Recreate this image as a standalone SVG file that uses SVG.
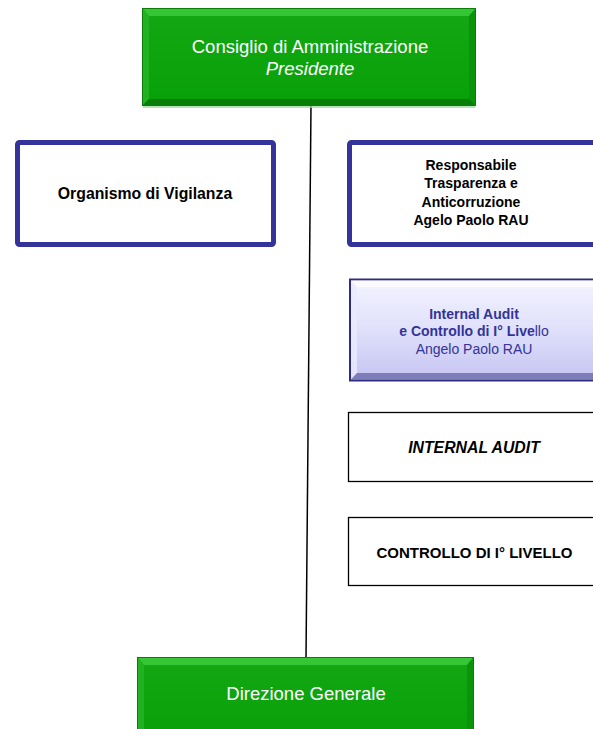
<svg xmlns="http://www.w3.org/2000/svg" width="593" height="729" viewBox="0 0 593 729">
<defs>
<linearGradient id="gGreen" x1="0" y1="0" x2="0" y2="1">
<stop offset="0" stop-color="#14a814"/>
<stop offset="1" stop-color="#08a008"/>
</linearGradient>
<linearGradient id="gLav" x1="0" y1="0" x2="0" y2="1">
<stop offset="0" stop-color="#f4f4ff"/>
<stop offset="0.5" stop-color="#e0e0fb"/>
<stop offset="1" stop-color="#c4c4f2"/>
</linearGradient>
<style>
.t{font-family:"Liberation Sans",Arial,sans-serif;text-anchor:middle}
.w{fill:#ffffff;font-size:18.5px}
.b{fill:#000000;font-weight:bold;font-size:14px}
.n{fill:#333399;font-size:14px}
.blue{fill:#ffffff;stroke:#333399;stroke-width:5}
.thin{fill:#ffffff;stroke:#000000;stroke-width:1.3}
.gb{stroke:#0b7d0b;stroke-width:1}
.conn{stroke:#000000;stroke-width:1.5;fill:none}
</style>
</defs>

<g id="connectors">
<line class="conn" x1="311" y1="105" x2="306" y2="658"/>
</g>

<g id="cda">
<rect x="142.5" y="8.5" width="333" height="97" fill="url(#gGreen)" class="gb"/>
<polygon points="143,9 475,9 469,16 149,16" fill="#3ccb3c" opacity="0.85"/>
<polygon points="143,9 149,16 149,99 143,105" fill="#24b424" opacity="0.9"/>
<polygon points="475,9 475,105 469,99 469,16" fill="#0b920b" opacity="0.9"/>
<polygon points="143,105 149,99 469,99 475,105" fill="#087a08" opacity="0.9"/>
<line x1="143" y1="107" x2="475" y2="107" stroke="#9fd89f" stroke-width="1.5"/>
<text class="t w" x="310" y="53">Consiglio di Amministrazione</text>
<text class="t w" x="310" y="75" font-style="italic">Presidente</text>
</g>

<g id="odv">
<rect class="blue" x="17.5" y="142.5" width="256" height="102" rx="2"/>
<text class="t b" x="145" y="199" font-size="16px" style="font-size:15.8px">Organismo di Vigilanza</text>
</g>

<g id="rpct">
<rect class="blue" x="349.5" y="142.5" width="260" height="102" rx="2"/>
<text class="t b" x="471" y="170">Responsabile</text>
<text class="t b" x="471" y="188">Trasparenza e</text>
<text class="t b" x="471" y="206.5">Anticorruzione</text>
<text class="t b" x="471" y="224.5">Agelo Paolo RAU</text>
</g>

<g id="ia-cl">
<rect x="350" y="279.5" width="260" height="101" fill="url(#gLav)" stroke="#2e2e80" stroke-width="2"/>
<polygon points="351,280.5 610,280.5 604,287 357,287" fill="#ffffff" opacity="0.7"/>
<polygon points="351,280.5 357,287 357,373 351,379.5" fill="#ebebff" opacity="0.8"/>
<polygon points="351,379.5 357,373 610,373 610,379.5" fill="#7070b0" opacity="0.85"/>
<text class="t n" x="474" y="318.5" font-weight="bold">Internal Audit</text>
<text class="t n" x="474" y="336"><tspan font-weight="bold">e Controllo di I° Live</tspan>llo</text>
<text class="t n" x="474" y="353.5">Angelo Paolo RAU</text>
</g>

<g id="internal-audit">
<rect class="thin" x="348.5" y="412.5" width="260" height="69"/>
<text class="t b" x="474" y="452.5" font-style="italic" style="font-size:15.8px">INTERNAL AUDIT</text>
</g>

<g id="controllo">
<rect class="thin" x="348.5" y="517.5" width="260" height="68" stroke="#333333"/>
<text class="t b" x="474.5" y="558" style="font-size:15px">CONTROLLO DI I° LIVELLO</text>
</g>

<g id="dg">
<rect x="137.5" y="657.5" width="336" height="80" fill="url(#gGreen)" class="gb"/>
<polygon points="138,658 473,658 467,665 144,665" fill="#3ccb3c" opacity="0.85"/>
<polygon points="138,658 144,665 144,729 138,729" fill="#24b424" opacity="0.9"/>
<polygon points="473,658 473,729 467,729 467,665" fill="#0b920b" opacity="0.9"/>
<text class="t w" x="306" y="700">Direzione Generale</text>
</g>
</svg>
